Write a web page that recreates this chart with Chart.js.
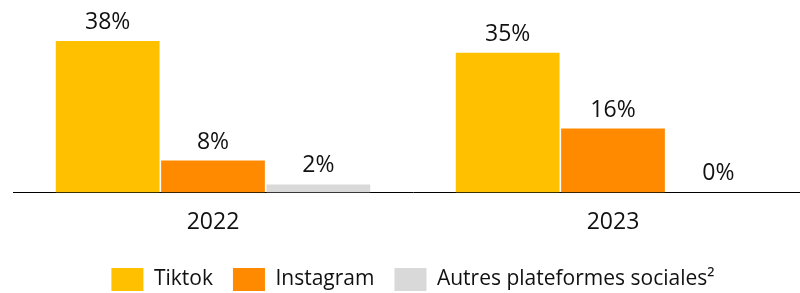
<!DOCTYPE html>
<html>
<head>
<meta charset="utf-8">
<script src="https://cdn.jsdelivr.net/npm/chart.js@4"></script>
<style>
  html, body { margin: 0; padding: 0; background: #fff; overflow: hidden; }
  #wrap { width: 800px; height: 293px; overflow: hidden; }
</style>
</head>
<body>
<div id="wrap"><canvas id="socialChart" width="813" height="293"></canvas></div>
<script>
/* ================= DATA ================= */

const years = ["2022", "2023"];
const tiktokData = [38, 35];
const instagramData = [8, 16];
const autresData = [2, 0];
const seriesLabels = ["Tiktok", "Instagram", "Autres plateformes sociales\u00B2"];

/* ================= VALUE LABELS ================= */

const valueLabels = {
    id: "valueLabels",
    afterDatasetsDraw(chart) {
        const ctx = chart.ctx;
        ctx.save();
        ctx.font = "23px 'Open Sans'";
        ctx.fillStyle = "#111";
        ctx.textAlign = "center";
        ctx.textBaseline = "alphabetic";
        chart.data.datasets.forEach((ds, i) => {
            chart.getDatasetMeta(i).data.forEach((bar, j) => {
                ctx.fillText(ds.data[j] + "%", bar.x, bar.y - 12);
            });
        });
        ctx.restore();
    }
};

/* ================= CHART ================= */

new Chart(document.getElementById("socialChart"), {

    type: "bar",

    data: {
        labels: years,
        datasets: [
            { label: seriesLabels[0], data: tiktokData, backgroundColor: "#FFC000" },
            { label: seriesLabels[1], data: instagramData, backgroundColor: "#FF8A00" },
            { label: seriesLabels[2], data: autresData, backgroundColor: "#D9D9D9" }
        ]
    },

    plugins: [valueLabels],

    options: {
        responsive: false,
        animation: false,
        devicePixelRatio: 1,
        categoryPercentage: 0.79,
        barPercentage: 0.985,

        layout: {
            padding: { left: 13, right: 0, top: 13, bottom: -8 }
        },

        plugins: {
            legend: {
                position: "bottom",
                labels: {
                    boxWidth: 32,
                    boxHeight: 23,
                    padding: 20,
                    color: "#111",
                    font: { family: "'Open Sans'", size: 21 }
                }
            },
            tooltip: { enabled: false }
        },

        scales: {
            x: {
                grid: { display: false },
                border: { color: "#000", width: 1 },
                afterFit: (scale) => { scale.height += 4; },
                ticks: {
                    color: "#111",
                    padding: 8,
                    font: { family: "'Open Sans'", size: 23 }
                }
            },
            y: {
                display: false,
                min: 0,
                max: 45
            }
        }
    }

});
</script>
</body>
</html>
